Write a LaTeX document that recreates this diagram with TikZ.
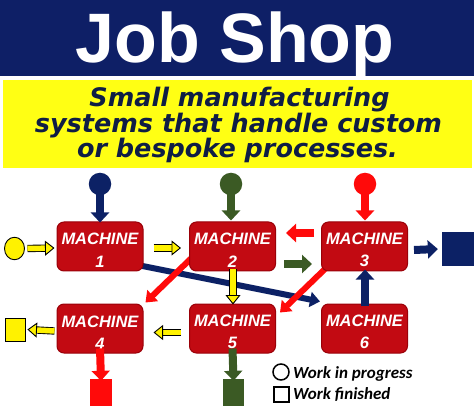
\documentclass[tikz,border=0pt]{standalone}
\usepackage{fontspec}
\setmainfont{Liberation Sans}
\newfontfamily\djv{DejaVu Sans}
\newfontfamily\lib{Liberation Sans}
\newfontfamily\carl{Carlito}
\usetikzlibrary{arrows.meta,calc,shapes.geometric,backgrounds}
\definecolor{navyc}{HTML}{0C2165}
\definecolor{bandblue}{HTML}{0E1F66}
\definecolor{bandyel}{HTML}{FFFF14}
\definecolor{subtxt}{HTML}{0F1D45}
\definecolor{boxred}{HTML}{C20A12}
\definecolor{boxedge}{HTML}{9A0008}
\definecolor{brred}{HTML}{FF0A0A}
\definecolor{grn}{HTML}{3B5A24}
\tikzset{
  machine/.style={rectangle, rounded corners=7pt, fill=boxred, draw=boxedge, line width=1pt,
    minimum width=86pt, minimum height=49pt, inner sep=0pt, text=white, align=center,
    font=\lib\bfseries\itshape\fontsize{16.5}{22}\selectfont},
  dot/.style={circle, minimum size=22.5pt, inner sep=0pt, fill=#1},
  sqr/.style={rectangle, inner sep=0pt, fill=#1},
  barrow/.style={draw=#1, line width=8pt, -{Triangle[width=18pt,length=10pt]}},
  yarrow/.style={draw=black, line width=0.9pt, double=yellow, double distance=5.5pt,
    -{Triangle[width=15pt,length=9.5pt,fill=yellow]}},
  diag/.style={draw=#1, line width=6pt},
  legtxt/.style={anchor=base west, inner sep=0pt, font=\carl\bfseries\itshape\fontsize{17}{20}\selectfont},
  subline/.style={anchor=base, inner sep=0pt, text=subtxt, font=\djv\bfseries\itshape\fontsize{25.5}{26}\selectfont}
}
\begin{document}
\begin{tikzpicture}[x=1pt,y=-1pt]
\useasboundingbox (0,0) rectangle (474,406);
\clip (0,0) rectangle (474,406);
% bands
\fill[bandblue] (0,0) rectangle (474,76.5);
\fill[bandyel] (3,80) rectangle (472,168);
\node[anchor=base, inner sep=0pt, text=white, font=\lib\bfseries\fontsize{70}{70}\selectfont] (title) at (235,63) {Job Shop};
\node[subline] (sub1) at (239.5,107) {Small manufacturing};
\node[subline] (sub2) at (238.5,132.5) {systems that handle custom};
\node[subline] (sub3) at (237.5,158) {or bespoke processes.};
% machines
\node[machine] (m1) at (100,246.5) {\rule{0pt}{19pt}MACHINE\\1};
\node[machine] (m2) at (232.5,246.5) {\rule{0pt}{19pt}MACHINE\\2};
\node[machine] (m3) at (364.5,246.5) {\rule{0pt}{19pt}MACHINE\\3};
\node[machine] (m4) at (100,328.5) {\rule{0pt}{19pt}MACHINE\\4};
\node[machine] (m5) at (232.5,328.5) {\rule{0pt}{19pt}MACHINE\\5};
\node[machine] (m6) at (364.5,328.5) {\rule{0pt}{19pt}MACHINE\\6};
% diagonal connectors under the boxes
\begin{scope}[on background layer]
\draw[diag=navyc, -{Triangle[width=15pt,length=10pt]}] ([shift={(-6,-6.5)}]m1.south east) -- ([shift={(-1,-2)}]m6.north west);
\draw[diag=brred, -{Triangle[width=15pt,length=10pt]}] ([shift={(2,-13)}]m2.south west) -- ([shift={(2,-1)}]m4.north east);
\draw[diag=brred, -{Triangle[width=15pt,length=10pt]}] ([shift={(5,-3.5)}]m3.south west) -- ([shift={(4,9)}]m5.north east);
\end{scope}
% work in progress circles
\node[dot=navyc] (c1) at (100,184) {};
\node[dot=grn] (c2) at (231,184) {};
\node[dot=brred] (c3) at (365,184) {};
\node[ellipse, draw=black, line width=0.9pt, fill=yellow, minimum width=20pt, minimum height=22.5pt, inner sep=0pt] (yin) at (14.5,248.5) {};
% finished squares
\node[sqr=navyc, minimum width=34pt, minimum height=34pt] (fr) at (459,249) {};
\node[sqr=yellow, draw=black, line width=0.9pt, minimum width=20pt, minimum height=23pt] (fy) at (15,329.5) {};
\node[sqr=brred, minimum width=22pt, minimum height=32pt] (f4) at (101,395) {};
\node[sqr=grn, minimum width=21pt, minimum height=32pt] (f5) at (233.5,395) {};
% input arrows
\draw[barrow=navyc] ([yshift=4]c1.south) -- ([yshift=-1]m1.north);
\draw[barrow=grn] ([yshift=4]c2.south) -- ([shift={(-1.5,-1)}]m2.north);
\draw[barrow=brred] ([yshift=4]c3.south) -- ([shift={(0.5,-1)}]m3.north);
\draw[yarrow] ([xshift=2.5]yin.east) -- ([shift={(-2,1.5)}]m1.west);
% flow arrows
\draw[yarrow] ([shift={(10,1.5)}]m1.east) -- ([shift={(-8,1.5)}]m2.west);
\draw[barrow=brred] ([shift={(-7,-13.5)}]m3.west) -- ([shift={(10,-13.5)}]m2.east);
\draw[barrow=grn] ([shift={(8,17.5)}]m2.east) -- ([shift={(-9,17.5)}]m3.west);
\draw[barrow=navyc] ([shift={(6,3.5)}]m3.east) -- ([xshift=-4]fr.west);
\draw[yarrow] ([xshift=0.5,yshift=2]m2.south) -- ([xshift=0.5,yshift=-1]m5.north);
\draw[barrow=navyc] ([xshift=0.5,yshift=-2]m6.north) -- ([xshift=0.5,yshift=2]m3.south);
\draw[yarrow] ([shift={(-8,4)}]m5.west) -- ([shift={(10,4)}]m4.east);
\draw[yarrow] ([shift={(-2,2.5)}]m4.west) -- ([xshift=2]fy.east);
\draw[barrow=brred] ([yshift=5]m4.south) -- ([yshift=-2]f4.north);
\draw[barrow=grn] ([yshift=5]m5.south) -- ([yshift=-2]f5.north);
% legend
\node[circle, draw=black, line width=1.5pt, minimum size=16pt, inner sep=0pt] (lc) at (281,372) {};
\node[legtxt] (lt1) at (293,378) {Work in progress};
\node[rectangle, draw=black, line width=1.5pt, minimum size=15pt, inner sep=0pt] (ls) at (281.5,394.5) {};
\node[legtxt] (lt2) at (293,399) {Work finished};
\end{tikzpicture}
\end{document}
